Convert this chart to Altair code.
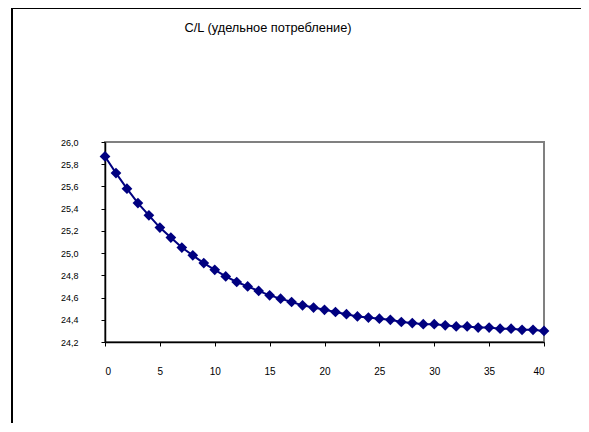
import altair as alt
import pandas as pd

title_text = "C/L (удельное потребление)"
x_vals = list(range(0, 41))
y_vals = [25.87, 25.72, 25.58, 25.45, 25.34, 25.23, 25.14, 25.05, 24.98, 24.91,
          24.85, 24.79, 24.74, 24.70, 24.66, 24.62, 24.59, 24.56, 24.53, 24.51,
          24.49, 24.47, 24.45, 24.43, 24.42, 24.41, 24.40, 24.38, 24.37, 24.36,
          24.36, 24.35, 24.34, 24.34, 24.33, 24.33, 24.32, 24.32, 24.31, 24.31,
          24.30]
x_ticks = [0, 5, 10, 15, 20, 25, 30, 35, 40]
y_ticks = [24.2, 24.4, 24.6, 24.8, 25.0, 25.2, 25.4, 25.6, 25.8, 26.0]

df = pd.DataFrame({"x": x_vals, "y": y_vals})
FONT = "Liberation Sans"
NAVY = "#000080"

xenc = alt.X("x:Q", scale=alt.Scale(domain=[0, 40], nice=False),
             axis=alt.Axis(values=x_ticks, title=None, grid=False, domainColor="black",
                           tickColor="black", tickSize=4, labelPadding=20,
                           labelFont=FONT, labelFontSize=10, labelColor="black",
                           labelOverlap=False, domainWidth=1.5))
yenc = alt.Y("y:Q", scale=alt.Scale(domain=[24.2, 26.0], nice=False, zero=False),
             axis=alt.Axis(values=y_ticks, title=None, grid=False, domainColor="black",
                           tickColor="black", tickSize=4, labelPadding=23,
                           labelFont=FONT, labelFontSize=9, labelColor="black",
                           labelOverlap=False,
                           labelExpr="replace(format(datum.value, '.1f'), '.', ',')",
                           domainWidth=1.5))

base = alt.Chart(df).encode(x=xenc, y=yenc)
line = base.mark_line(color=NAVY, strokeWidth=2)
pts = base.mark_point(shape="diamond", filled=True, color=NAVY, size=115, opacity=1)

one = alt.Chart(pd.DataFrame({"t": [title_text]}))
frame_top = one.mark_rule(color="black", strokeWidth=2, clip=False).encode(
    x=alt.value(-94), x2=alt.value(476), y=alt.value(-134))
frame_left = one.mark_rule(color="black", strokeWidth=2, clip=False).encode(
    x=alt.value(-93), y=alt.value(-135), y2=alt.value(282))
title = one.mark_text(font=FONT, fontSize=12.8, color="black", align="center", baseline="middle").encode(
    text="t:N", x=alt.value(163), y=alt.value(-114))

chart = alt.layer(frame_top, frame_left, line, pts, title).properties(
    width=439, height=200,
    padding={"left": 97, "top": 134, "right": 37, "bottom": 81},
    autosize=alt.AutoSizeParams(type="none"),
).configure(background="white").configure_view(stroke="#808080", strokeWidth=2)

chart.save("out.html", embed_options={"renderer": "svg", "actions": False})
